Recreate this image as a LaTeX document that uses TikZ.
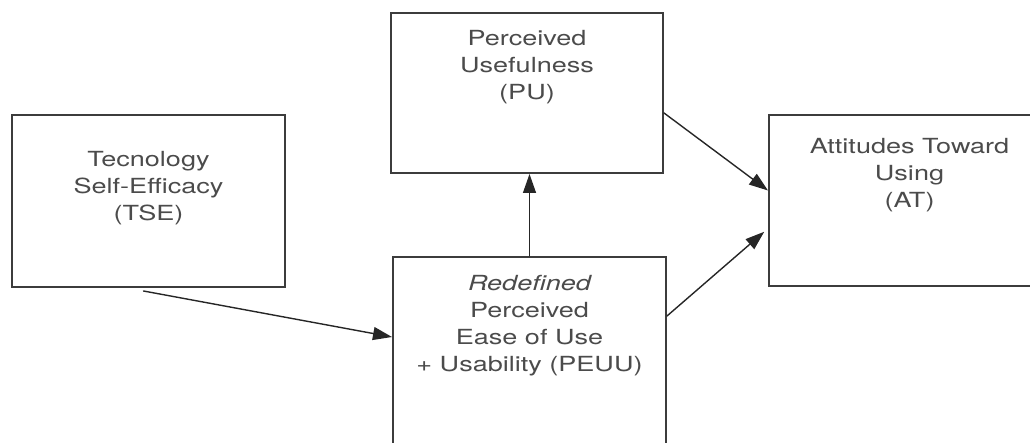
\documentclass[tikz,border=0pt]{standalone}
\usepackage{fontspec}
\setmainfont{TeX Gyre Heros}
\newfontfamily\boxfont[FakeStretch=1.3]{TeX Gyre Heros}
\usetikzlibrary{arrows.meta,positioning}
\definecolor{boxline}{RGB}{60,60,60}
\definecolor{boxtext}{RGB}{75,75,75}

\begin{document}
\begin{tikzpicture}[x=1pt,y=1pt,>={Triangle[length=19pt,width=13pt]},line cap=round,
  box/.style={draw=boxline,line width=2pt,fill=white,inner sep=0pt},
  boxtxt/.style={anchor=north,inner sep=0pt,align=center,text=boxtext,
    font=\boxfont\fontsize{20.8pt}{27pt}\selectfont},
  link/.style={->,line width=1.4pt,draw=black!85}]
\useasboundingbox (0,0) rectangle (1030,443);
\clip (0,0) rectangle (1030,443);
\node[box,minimum width=273pt,minimum height=172pt] (tse) at (148.5,242) {};
\node[box,minimum width=272pt,minimum height=160pt] (pu) at (527,350) {};
\node[box,minimum width=273pt,minimum height=220pt] (peuu) at (529.5,76) {};
\node[box,minimum width=281pt,minimum height=171pt] (at) at (909.5,242.5) {};
\node[boxtxt,below=37pt of tse.north] (tsetxt) {Tecnology\\Self-Efficacy\\(TSE)};
\node[boxtxt,below=18pt of pu.north] (putxt) {Perceived\\Usefulness\\(PU)};
\node[boxtxt,below=19pt of peuu.north] (peuutxt) {\itshape Redefined\\Perceived\\Ease of Use\\+ Usability (PEUU)};
\node[boxtxt,below=24pt of at.north] (attxt) {Attitudes Toward\\Using\\(AT)};
\draw[link] ([xshift=-5pt,yshift=-3pt]tse.south) -- ([yshift=-81pt]peuu.north west);
\draw[link] (peuu.north) -- (peuu.north |- pu.south);
\draw[link] ([yshift=-20pt]pu.east) -- ([yshift=10pt]at.west);
\draw[link,shorten >=5pt] ([yshift=-60pt]peuu.north east) -- ([yshift=-28pt]at.west);
\end{tikzpicture}
\end{document}
